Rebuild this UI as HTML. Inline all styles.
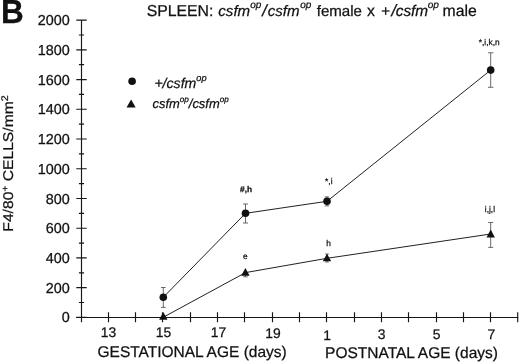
<!DOCTYPE html>
<html><head><meta charset="utf-8"><title>B</title>
<style>
html,body{margin:0;padding:0;background:#fff;}
svg{display:block;}
text{font-family:"Liberation Sans",sans-serif;fill:#111;stroke:#111;stroke-width:0.25px;text-rendering:geometricPrecision;}
.a{font-size:15.8px;}
.s{font-size:8.3px;stroke-width:0.15px;}
.i{font-style:italic;}
.sup{font-style:italic;}
</style></head><body>
<svg width="520" height="363" viewBox="0 0 520 363">
<rect width="520" height="363" fill="#fff"/>
<text id="B" transform="translate(0.9,23.4) scale(1.05,1.11)" font-size="30" font-weight="bold">B</text>
<text id="title" class="a" y="15.7"><tspan x="146.7">SPLEEN: </tspan><tspan class="i" font-size="15.1" x="218.3">csfm</tspan><tspan class="sup" font-size="10" x="250.2" y="8.3">op</tspan><tspan class="i" font-size="16.5" x="262.3" y="15.7">/</tspan><tspan class="i" font-size="15.1" x="267.7">csfm</tspan><tspan class="sup" font-size="10" x="300.3" y="8.3">op </tspan><tspan font-size="15.1" x="316.7" y="15.7">female </tspan><tspan x="367.1">x </tspan><tspan class="i" font-size="15.1" x="380.9">+</tspan><tspan class="i" font-size="16.5" x="391.6">/</tspan><tspan class="i" font-size="15.4" x="395.7">csfm</tspan><tspan class="sup" font-size="10" x="427.8" y="8.3">op </tspan><tspan x="442.5" y="15.7">male</tspan></text>
<g stroke="#161616" stroke-width="1.15" fill="none">
<path d="M81.5 20.2V322.3"/>
<path d="M76.3 317.5H518.2"/>
<path d="M76.3 317.40H86.7M78.9 302.53H84.1M76.3 287.67H86.7M78.9 272.80H84.1M76.3 257.94H86.7M78.9 243.07H84.1M76.3 228.21H86.7M78.9 213.34H84.1M76.3 198.48H86.7M78.9 183.61H84.1M76.3 168.75H86.7M78.9 153.88H84.1M76.3 139.02H86.7M78.9 124.15H84.1M76.3 109.29H86.7M78.9 94.42H84.1M76.3 79.56H86.7M78.9 64.69H84.1M76.3 49.83H86.7M78.9 34.96H84.1M76.3 20.10H86.7"/>
<path d="M108.5 312.3V322.3M135.5 312.3V322.3M162.5 312.3V322.3M190.5 312.3V322.3M217.5 312.3V322.3M244.5 312.3V322.3M272.5 312.3V322.3M299.5 312.3V322.3M326.5 312.3V322.3M354.5 312.3V322.3M381.5 312.3V322.3M408.5 312.3V322.3M436.5 312.3V322.3M463.5 312.3V322.3M490.5 312.3V322.3M517.7 312.3V322.3"/>
</g>
<g id="yl" font-size="14.4" text-anchor="end">
<text x="69.7" y="322.4">0</text>
<text x="69.7" y="292.7">200</text>
<text x="69.7" y="262.9">400</text>
<text x="69.7" y="233.2">600</text>
<text x="69.7" y="203.5">800</text>
<text x="69.7" y="173.7">1000</text>
<text x="69.7" y="144.0">1200</text>
<text x="69.7" y="114.3">1400</text>
<text x="69.7" y="84.6">1600</text>
<text x="69.7" y="54.8">1800</text>
<text x="69.7" y="25.1">2000</text>
</g>
<g id="xl" font-size="13.9" text-anchor="middle">
<text x="108.6" y="336.6">13</text>
<text x="163.4" y="336.6">15</text>
<text x="218.6" y="336.6">17</text>
<text x="273" y="337.8">19</text>
<text x="327.2" y="339.9">1</text>
<text x="381.7" y="338.5">3</text>
<text x="436.5" y="338.9">5</text>
<text x="491.4" y="338.7">7</text>
</g>
<text id="ylab" font-size="15.7" transform="translate(13.1,231.7) rotate(-90) scale(1,0.9)">F4/80<tspan font-size="10" dy="-5.5">+</tspan><tspan dy="5.5"> CELLS/mm</tspan><tspan font-size="10.7" dy="-5.5">2</tspan></text>
<text id="gl" font-size="15.5" x="97.5" y="357.2">GESTATIONAL AGE (days)</text>
<text id="pl" font-size="15.5" x="325.1" y="357.8">POSTNATAL AGE (days)</text>
<circle cx="132.1" cy="81.2" r="3.8" fill="#111"/>
<path d="M131.1 99.4L135.7 107.6H126.5Z" fill="#111"/>
<text id="l1" class="i" font-size="14.1" x="154.4" y="87.6">+/csfm<tspan class="sup" font-size="9.2" dy="-6.5">op</tspan></text>
<text id="l2" class="i" font-size="12.9" x="152.6" y="108.4">csfm<tspan class="sup" font-size="8.1" dy="-6">op</tspan><tspan dy="6">/csfm</tspan><tspan class="sup" font-size="8.1" dy="-6">op</tspan></text>
<g stroke="#5a5a5a" stroke-width="0.9" fill="none">
<path d="M163.3 287.5V307.4M161 287.5H165.6M161 307.4H165.6"/>
<path d="M245.5 204V223M243 204H248M243 223H248"/>
<path d="M327 196.9V205.9M324.8 196.9H329.2M324.8 205.9H329.2"/>
<path d="M490.7 52.8V87.3M488 52.8H493.4M488 87.3H493.4"/>
<path d="M245.5 272V276.8M243.3 276.8H247.7"/>
<path d="M327 254V262M325.2 254H328.8M325.2 262H328.8"/>
<path d="M490.7 222.5V247.4M488.2 222.5H493.2M488.2 247.4H493.2"/>
</g>
<g stroke="#222" stroke-width="1" fill="none">
<path d="M163.3 297.3L245.5 213.3L327 201.3L490.7 70.1"/>
<path d="M163.2 317.3L245.5 272.6L327 258.3L490.7 234"/>
</g>
<g fill="#111">
<circle cx="163.3" cy="297.3" r="3.8"/>
<circle cx="245.5" cy="213.3" r="3.8"/>
<circle cx="327" cy="201.3" r="3.8"/>
<circle cx="490.7" cy="70.1" r="3.8"/>
<path d="M163.3 311.9L167.5 319.8H159.1Z"/>
<path d="M245.4 267.9L249.6 275.7H241.2Z"/>
<path d="M327 253.7L331.2 261.3H322.8Z"/>
<path d="M490.7 229.6L494.9 237.5H486.5Z"/>
</g>
<g class="s" text-anchor="middle">
<text transform="translate(246.1,191.8)" font-weight="bold">#,h</text>
<text transform="translate(245.4,259.3)">e</text>
<text transform="translate(328.8,183.9)">*,i</text>
<text transform="translate(328.6,245.5)">h</text>
<text transform="translate(489.2,45.2)">*,i,k,n</text>
<text transform="translate(489.9,212.1)">i,j,l</text>
</g>
</svg>
</body></html>
